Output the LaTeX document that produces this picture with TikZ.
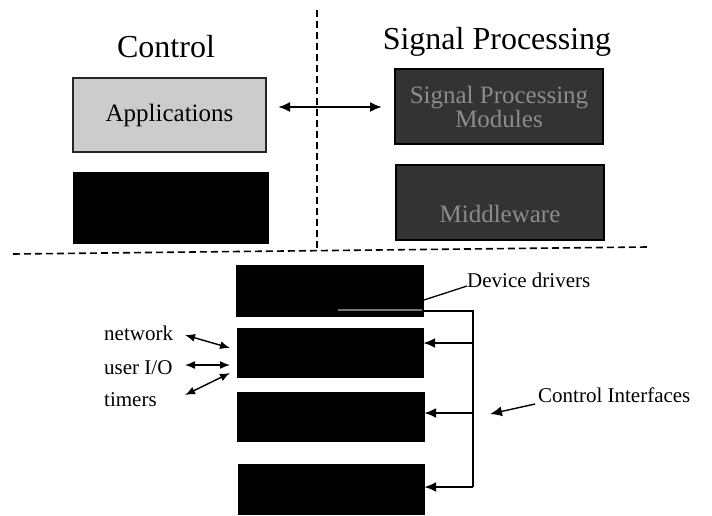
\documentclass[tikz,border=0pt]{standalone}
\usepackage{fontspec}
\setmainfont{Liberation Serif}
\usetikzlibrary{arrows.meta}
\begin{document}
\begin{tikzpicture}[x=1pt,y=-1pt,
  title/.style={font=\fontsize{32}{36}\selectfont, inner sep=0pt},
  lbl/.style={font=\fontsize{21}{24}\selectfont, inner sep=0pt},
  darkbox/.style={draw=black, fill=black, inner sep=0pt},
  sigbox/.style={draw=black, line width=1.5pt, fill=black!80, text=black!45, inner sep=0pt, align=center, font=\fontsize{25}{24}\selectfont},
  appbox/.style={draw=black!85, line width=1.5pt, fill=black!20, inner sep=0pt, font=\fontsize{25}{28}\selectfont},
  sep/.style={dashed, dash pattern=on 7pt off 4pt, line width=1.6pt},
  arr/.style={line width=2pt, -{Latex[length=12pt,width=10pt]}},
  darr/.style={line width=2pt, {Latex[length=12pt,width=10pt]}-{Latex[length=12pt,width=10pt]}},
  sarr/.style={line width=1.4pt, {Latex[length=10pt,width=8pt]}-{Latex[length=10pt,width=8pt]}},
  thin/.style={line width=1.3pt}]
\useasboundingbox (0,0) rectangle (712,515);
\fill[white] (0,0) rectangle (712,515);

% titles
\node[title] (tctl) at (166,47) {Control};
\node[title] (tsp) at (497,42) {Signal Processing};

% separators
\coordinate (vt) at (317,10);
\coordinate (vb) at (317,249);
\coordinate (hl) at (13,254);
\coordinate (hr) at (647,247);
\draw[sep] (vt) -- (vb);
\draw[sep] (hl) -- (hr);

% upper boxes
\node[appbox, minimum width=193pt, minimum height=74pt] (app) at (169.5,115) {Applications};
\node[darkbox, minimum width=195pt, minimum height=71pt] (ctl2) at (170.5,207.5) {};
\node[sigbox, minimum width=208pt, minimum height=75pt] (spm) at (499,106.5) {Signal Processing\\Modules};
\node[sigbox, minimum width=208pt, minimum height=75pt] (spw) at (500,202.5) {\phantom{X}\\Middleware};

\coordinate (al) at (278,107);
\coordinate (ar) at (382,107);
\draw[darr] (al) -- (ar);

% lower stack
\node[darkbox, minimum width=187pt, minimum height=51pt] (b1) at (329.5,290.5) {};
\node[darkbox, minimum width=186pt, minimum height=49pt] (b2) at (330,353) {};
\node[darkbox, minimum width=187pt, minimum height=49pt] (b3) at (330.5,416.5) {};
\node[darkbox, minimum width=186pt, minimum height=50pt] (b4) at (331,489) {};
\draw[black!55, line width=1.2pt] (338,310) -- (422,310);

% bracket of control interfaces
\coordinate (bs) at (423,311);
\coordinate (bc) at (473,311);
\coordinate (bb) at (473,487);
\draw[line width=2.4pt] (bs) -- (bc) -- (bb);
\draw[arr] (bb) -- (b4.east |- bb);
\draw[arr] (473,343) -- (b2.east |- 0,343);
\draw[arr] (473,413) -- (b3.east |- 0,413);

% labels on the right
\node[lbl, anchor=west] (dd) at (467,280) {Device drivers};
\coordinate (ddt) at (421,301);
\draw[thin] (ddt) -- (dd.west |- 0,286) ;
\node[lbl, anchor=west] (ci) at (538,395) {Control Interfaces};
\coordinate (cis) at (535,404);
\coordinate (cie) at (490,414);
\draw[arr, line width=1.4pt] (cis) -- (cie);

% labels on the left
\node[lbl, anchor=west] (net) at (104,333) {network};
\node[lbl, anchor=west] (uio) at (104,368) {user I/O};
\node[lbl, anchor=west] (tim) at (104,400) {timers};
\coordinate (n1) at (185,335);
\coordinate (n2) at (230,348);
\coordinate (u1) at (185,365);
\coordinate (u2) at (230,365);
\coordinate (t1) at (185,395);
\coordinate (t2) at (230,373);
\draw[sarr] (n1) -- (n2);
\draw[sarr] (u1) -- (u2);
\draw[sarr] (t1) -- (t2);
\end{tikzpicture}
\end{document}
